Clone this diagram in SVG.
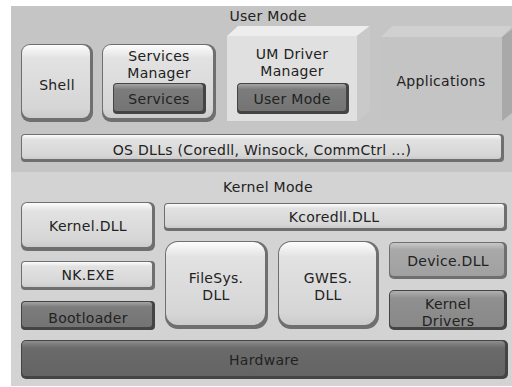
<svg xmlns="http://www.w3.org/2000/svg" width="512" height="387" viewBox="0 0 512 387">
  <defs>
    <linearGradient id="gLight" x1="0" y1="0" x2="0" y2="1">
      <stop offset="0" stop-color="#fdfdfd"/>
      <stop offset="0.18" stop-color="#e2e2e2"/>
      <stop offset="0.85" stop-color="#d6d6d6"/>
      <stop offset="1" stop-color="#cbcbcb"/>
    </linearGradient>
    <linearGradient id="gMid" x1="0" y1="0" x2="0" y2="1">
      <stop offset="0" stop-color="#c8c8c8"/>
      <stop offset="0.2" stop-color="#a9a9a9"/>
      <stop offset="1" stop-color="#a0a0a0"/>
    </linearGradient>
    <linearGradient id="gMidDark" x1="0" y1="0" x2="0" y2="1">
      <stop offset="0" stop-color="#b0b0b0"/>
      <stop offset="0.2" stop-color="#909090"/>
      <stop offset="1" stop-color="#888888"/>
    </linearGradient>
    <linearGradient id="gDark" x1="0" y1="0" x2="0" y2="1">
      <stop offset="0" stop-color="#a4a4a4"/>
      <stop offset="0.2" stop-color="#7c7c7c"/>
      <stop offset="1" stop-color="#747474"/>
    </linearGradient>
    <linearGradient id="gHw" x1="0" y1="0" x2="0" y2="1">
      <stop offset="0" stop-color="#8e8e8e"/>
      <stop offset="0.2" stop-color="#6a6a6a"/>
      <stop offset="1" stop-color="#646464"/>
    </linearGradient>
  </defs>
  <style>
    text { font-family: "DejaVu Sans", "Noto Sans", sans-serif; font-size: 14px; letter-spacing: 0.3px; fill: #222; text-anchor: middle; }
    .sh { fill: #6f6f6f; }
    .shd { fill: #444; }
    .fl { fill: url(#gLight); }
    .fm { fill: url(#gMid); }
    .fmd { fill: url(#gMidDark); }
    .fd { fill: url(#gDark); }
    .fh { fill: url(#gHw); }
  </style>

  <!-- background bands -->
  <rect x="11" y="6" width="501" height="166" fill="#c5c5c5"/>
  <rect x="11" y="172" width="501" height="214" fill="#d3d3d3"/>
  <text x="268" y="21">User Mode</text>
  <text x="268" y="192">Kernel Mode</text>

  <g id="shell">
    <rect class="sh" x="21" y="44" width="72" height="78" rx="9"/>
    <rect class="fl" x="22" y="45" width="68" height="73" rx="8"/>
    <text x="57" y="90">Shell</text>
  </g>

  <g id="services-manager">
    <rect class="sh" x="102" y="44" width="114" height="78" rx="9"/>
    <rect class="fl" x="103" y="45" width="110" height="73" rx="8"/>
    <text x="159" y="61">Services</text>
    <text x="159" y="78">Manager</text>
    <g id="services">
      <rect class="shd" x="113" y="83" width="93" height="31" rx="4"/>
      <rect class="fd" x="114" y="84" width="89" height="27" rx="3"/>
      <text x="159" y="104">Services</text>
    </g>
  </g>

  <g id="um-driver-manager">
    <polygon points="227,36 238,26 370,26 357,36" fill="#ededed"/>
    <polygon points="357,36 370,26 370,111 357,121" fill="#c9c9c9"/>
    <rect x="227" y="36" width="130" height="85" fill="#e0e0e0"/>
    <text x="292" y="59">UM Driver</text>
    <text x="292" y="76">Manager</text>
    <g id="user-mode">
      <rect class="shd" x="237" y="83" width="112" height="31" rx="4"/>
      <rect class="fd" x="238" y="84" width="108" height="27" rx="3"/>
      <text x="292" y="104">User Mode</text>
    </g>
  </g>

  <g id="applications">
    <polygon points="381,37 392,26 512,26 502,37" fill="#d0d0d0"/>
    <polygon points="502,37 512,29 512,113 502,121" fill="#a9a9a9"/>
    <rect x="381" y="37" width="121" height="84" fill="#c4c4c4"/>
    <text x="441" y="86">Applications</text>
  </g>

  <g id="os-dlls">
    <rect class="sh" x="21" y="134" width="483" height="28" rx="4"/>
    <rect class="fl" x="22" y="135" width="479" height="24" rx="3"/>
    <text x="262" y="155">OS DLLs (Coredll, Winsock, CommCtrl ...)</text>
  </g>

  <g id="kernel-dll">
    <rect class="sh" x="21" y="202" width="134" height="49" rx="6"/>
    <rect class="fl" x="22" y="203" width="130" height="44" rx="5"/>
    <text x="88" y="231">Kernel.DLL</text>
  </g>

  <g id="kcoredll">
    <rect class="sh" x="164" y="203" width="343" height="28" rx="4"/>
    <rect class="fl" x="165" y="204" width="339" height="24" rx="3"/>
    <text x="334" y="222">Kcoredll.DLL</text>
  </g>

  <g id="nk-exe">
    <rect class="sh" x="21" y="261" width="134" height="29" rx="4"/>
    <rect class="fl" x="22" y="262" width="130" height="25" rx="3"/>
    <text x="88" y="280">NK.EXE</text>
  </g>

  <g id="bootloader">
    <rect class="shd" x="21" y="301" width="134" height="29" rx="4"/>
    <rect class="fd" x="22" y="302" width="130" height="25" rx="3"/>
    <text x="88" y="323">Bootloader</text>
  </g>

  <g id="filesys">
    <rect class="sh" x="165" y="241" width="103" height="88" rx="13"/>
    <rect class="fl" x="166" y="242" width="99" height="83" rx="12"/>
    <text x="216" y="283">FileSys.</text>
    <text x="216" y="300">DLL</text>
  </g>

  <g id="gwes">
    <rect class="sh" x="278" y="241" width="101" height="88" rx="13"/>
    <rect class="fl" x="279" y="242" width="97" height="83" rx="12"/>
    <text x="328" y="283">GWES.</text>
    <text x="328" y="300">DLL</text>
  </g>

  <g id="device-dll">
    <rect class="sh" x="389" y="242" width="118" height="37" rx="5"/>
    <rect class="fm" x="390" y="243" width="114" height="33" rx="4"/>
    <text x="448" y="266">Device.DLL</text>
  </g>

  <g id="kernel-drivers">
    <rect class="shd" x="389" y="290" width="118" height="40" rx="5"/>
    <rect class="fmd" x="390" y="291" width="114" height="36" rx="4"/>
    <text x="448" y="309">Kernel</text>
    <text x="448" y="326">Drivers</text>
  </g>

  <g id="hardware">
    <rect class="shd" x="21" y="340" width="487" height="39" rx="5"/>
    <rect class="fh" x="22" y="341" width="483" height="35" rx="4"/>
    <text x="264" y="365">Hardware</text>
  </g>

  <g id="connectors"/>
</svg>
